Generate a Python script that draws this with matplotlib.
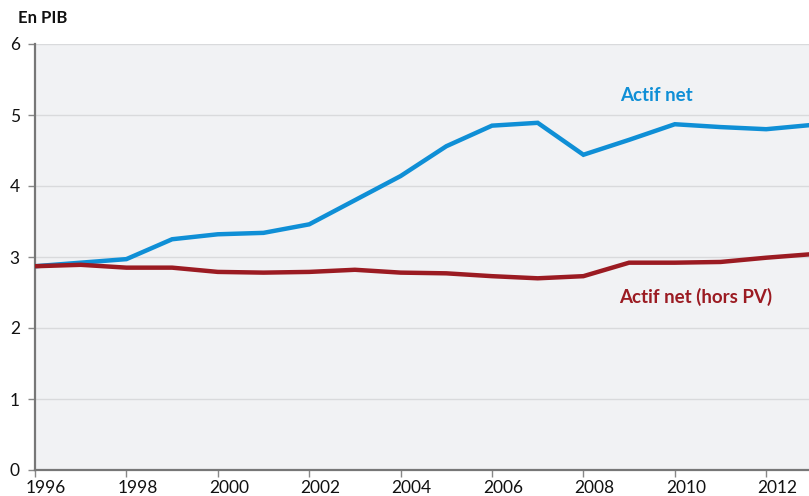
import matplotlib
matplotlib.use("Agg")
import matplotlib.pyplot as plt
import matplotlib.transforms as mtransforms

years = list(range(1996, 2014))
actif_net = [2.87, 2.92, 2.97, 3.25, 3.32, 3.34, 3.46, 3.80, 4.14, 4.56, 4.85, 4.89, 4.44, 4.65, 4.87, 4.83, 4.80, 4.86]
actif_net_hors_pv = [2.87, 2.89, 2.85, 2.85, 2.79, 2.78, 2.79, 2.82, 2.78, 2.77, 2.73, 2.70, 2.73, 2.92, 2.92, 2.93, 2.99, 3.04]
xticks = list(range(1996, 2013, 2))
yticks = [0, 1, 2, 3, 4, 5, 6]

plt.rcParams['font.family'] = ['Lato', 'DejaVu Sans']

W, H = 809, 496
fig = plt.figure(figsize=(W/100, H/100), dpi=100)
ax = fig.add_axes([35/W, (H-470)/H, (809-35)/W, (470-44)/H])
ax.set_facecolor('#f1f2f4')

blue = '#0f8fd6'
red = '#9b1b22'
ax.plot(years, actif_net, color=blue, lw=3.2, solid_joinstyle='miter', clip_on=True, zorder=3)
ax.plot(years, actif_net_hors_pv, color=red, lw=3.2, solid_joinstyle='miter', clip_on=True, zorder=3)

ax.set_xlim(1996, 1996 + (809-35)/45.7)
ax.set_ylim(0, 6)
ax.set_xticks(xticks)
ax.set_yticks(yticks)
ax.set_xticklabels([str(x) for x in xticks])
ax.set_yticklabels([str(y) for y in yticks])
ax.tick_params(axis='both', labelsize=12.5, colors='#111111', length=5, width=1, color='#888888')
ax.tick_params(axis='x', pad=2)
ax.tick_params(axis='y', pad=6)

offset = mtransforms.ScaledTranslation(11/100, 0, fig.dpi_scale_trans)
for lbl in ax.get_xticklabels():
    lbl.set_transform(lbl.get_transform() + offset)

for yv in yticks[1:]:
    ax.axhline(yv, color='#d9dadc', lw=1, zorder=1)

for s in ['top', 'right']:
    ax.spines[s].set_visible(False)
for s in ['left', 'bottom']:
    ax.spines[s].set_color('#777777')
    ax.spines[s].set_linewidth(1.6)

ax.text(2009.6, 5.27, 'Actif net', color=blue, fontsize=13.5, fontweight='bold', ha='center', va='center')
ax.text(2010.46, 2.44, 'Actif net (hors PV)', color=red, fontsize=13.5, fontweight='bold', ha='center', va='center')

fig.text(18/W, 1 - 18/H, 'En PIB', fontsize=12, fontweight='bold', color='#111111', ha='left', va='center')

fig.savefig('out.png', dpi=100)
